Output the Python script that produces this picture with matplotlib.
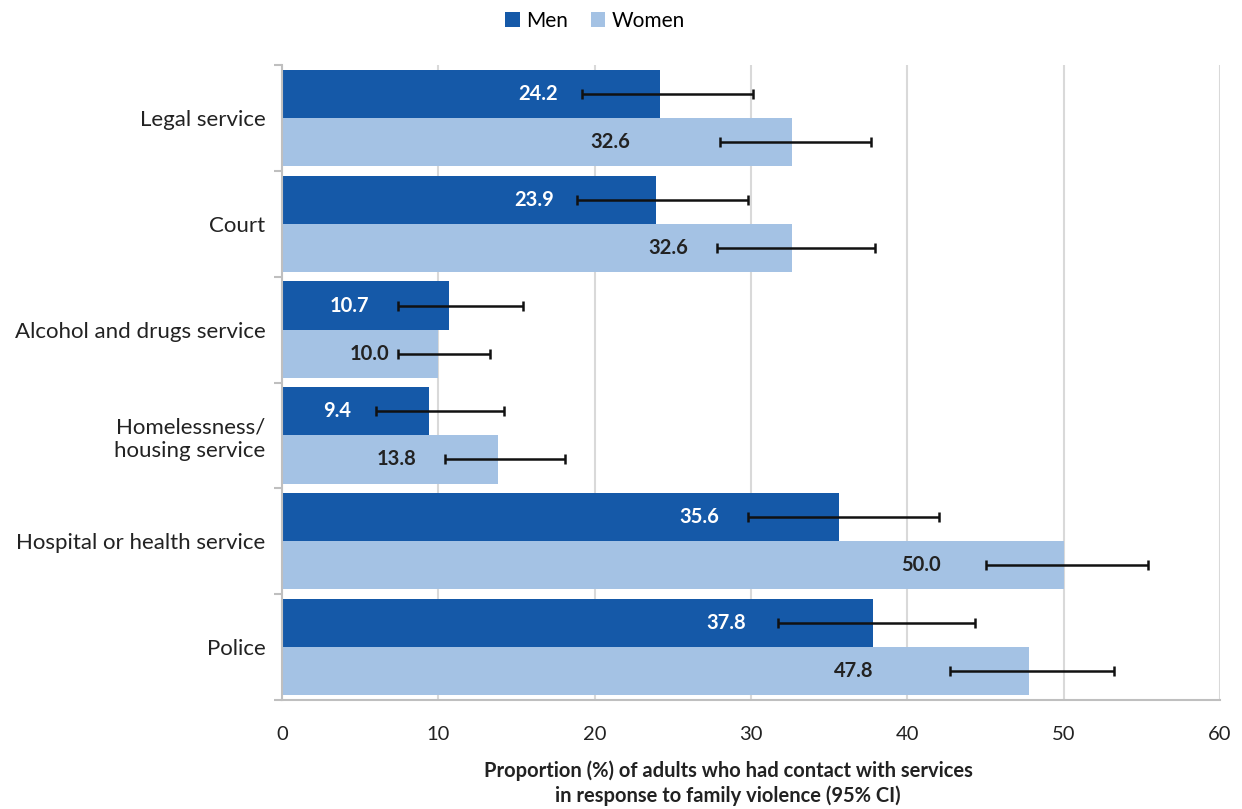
import numpy as np
import matplotlib.pyplot as plt

plt.rcParams['font.family'] = ['Lato', 'DejaVu Sans']

categories = ['Legal service', 'Court', 'Alcohol and drugs service',
              'Homelessness/\nhousing service', 'Hospital or health service', 'Police']
men = [24.2, 23.9, 10.7, 9.4, 35.6, 37.8]
men_lo = [19.2, 18.9, 7.4, 6.0, 29.8, 31.7]
men_hi = [30.1, 29.8, 15.4, 14.2, 42.0, 44.3]
women = [32.6, 32.6, 10.0, 13.8, 50.0, 47.8]
women_lo = [28.0, 27.8, 7.4, 10.4, 45.0, 42.7]
women_hi = [37.7, 37.9, 13.3, 18.1, 55.4, 53.2]

# where the value labels sit (x, data units)
men_label_x = [16.4, 16.1, 4.3, 3.5, 26.7, 28.4]
women_label_x = [21.0, 24.7, 5.6, 7.3, 40.9, 36.6]

MEN_COLOR = '#1559a8'
WOMEN_COLOR = '#a4c2e4'

fig = plt.figure(figsize=(12.42, 8.09), dpi=100)
ax = fig.add_axes([282 / 1242, 1 - 700 / 809, (1220 - 282) / 1242, (700 - 65) / 809])

n = len(categories)
y = np.arange(n)
h = 0.455

men_y = y - h / 2
women_y = y + h / 2

ax.barh(men_y, men, height=h, color=MEN_COLOR, label='Men', zorder=2)
ax.barh(women_y, women, height=h, color=WOMEN_COLOR, label='Women', zorder=2)

m = np.array(men)
w = np.array(women)
ax.errorbar(m, men_y, xerr=[m - np.array(men_lo), np.array(men_hi) - m],
            fmt='none', ecolor='#111111', elinewidth=1.8, capsize=3.5, capthick=1.8, zorder=3)
ax.errorbar(w, women_y, xerr=[w - np.array(women_lo), np.array(women_hi) - w],
            fmt='none', ecolor='#111111', elinewidth=1.8, capsize=3.5, capthick=1.8, zorder=3)

for i in range(n):
    ax.text(men_label_x[i], men_y[i], f'{men[i]:.1f}', ha='center', va='center',
            color='white', fontsize=14.5, fontweight='bold', zorder=4)
    ax.text(women_label_x[i], women_y[i], f'{women[i]:.1f}', ha='center', va='center',
            color='#222222', fontsize=14.5, fontweight='bold', zorder=4)

ax.set_xlim(0, 60)
ax.set_ylim(n - 0.5, -0.5)
ax.set_xticks(np.arange(0, 61, 10))
ax.tick_params(axis='x', length=0, labelsize=14.5, pad=19, colors='#222222')

ax.set_yticks(y)
ax.set_yticklabels(categories, fontsize=16, color='#222222')
ax.tick_params(axis='y', which='major', length=0, pad=12)
ax.set_yticks(np.arange(-0.5, n, 1.0), minor=True)
ax.tick_params(axis='y', which='minor', length=6, color='#bfbfbf', width=1.5)

ax.grid(axis='x', color='#d9d9d9', linewidth=1.5, zorder=0)
ax.set_axisbelow(True)
for s in ['top', 'right']:
    ax.spines[s].set_visible(False)
for s in ['left', 'bottom']:
    ax.spines[s].set_color('#bfbfbf')
    ax.spines[s].set_linewidth(1.5)

ax.set_xlabel('Proportion (%) of adults who had contact with services\n'
              'in response to family violence (95% CI)',
              fontsize=14.5, fontweight='bold', color='#222222', linespacing=1.3)
ax.xaxis.set_label_coords((728 - 282) / 938, (700 - 760) / 635)

fig.legend(loc='upper center', bbox_to_anchor=(595 / 1242, 1.01), ncol=2, frameon=False,
           fontsize=15, handlelength=0.7, handleheight=0.7, handletextpad=0.3,
           columnspacing=1.1)

fig.savefig('out.png', dpi=100)
